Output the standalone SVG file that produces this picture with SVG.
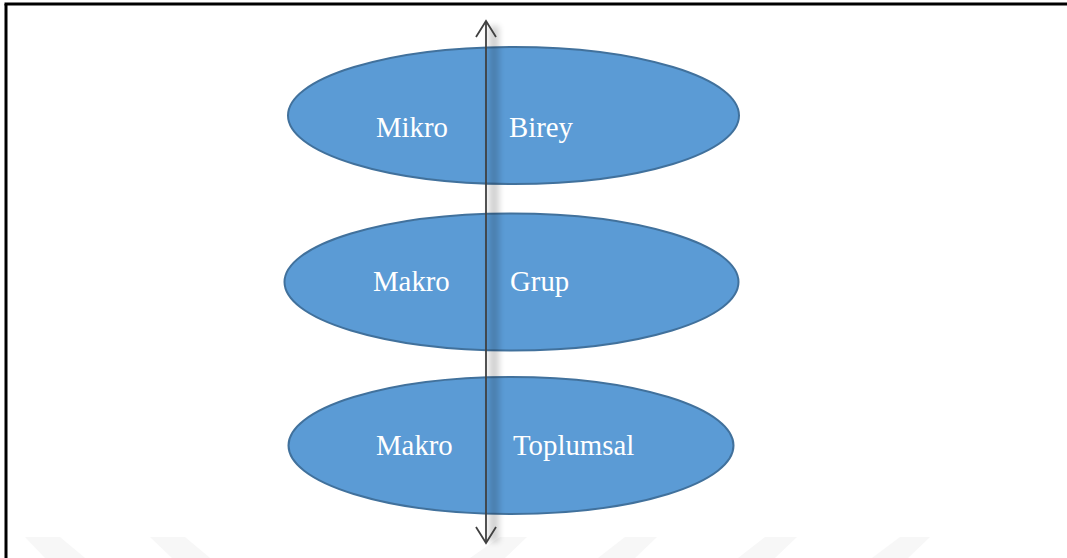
<svg xmlns="http://www.w3.org/2000/svg" width="1067" height="558" viewBox="0 0 1067 558">
<style>
.node ellipse{fill:#5b9bd5;stroke:#41719c;stroke-width:2}
.node text{font-family:"Liberation Serif","Times New Roman",serif;font-size:28.8px;fill:#ffffff}
.conn{stroke:#404040;stroke-width:1.8;fill:none}
.wm{fill:#f7f7f7}
</style>
<defs>
<filter id="blur" x="-200%" y="-10%" width="500%" height="120%"><feGaussianBlur stdDeviation="3"/></filter>
</defs>
<rect width="1067" height="558" fill="#ffffff"/>
<g id="watermark">
<polygon class="wm" points="25,537 60,537 85,558 45,558"/>
<polygon class="wm" points="150,537 185,537 210,558 172,558"/>
<polygon class="wm" points="500,537 527,537 505,558 470,558"/>
<polygon class="wm" points="625,537 657,537 635,558 598,558"/>
<polygon class="wm" points="765,537 797,537 775,558 738,558"/>
<polygon class="wm" points="900,537 930,537 908,558 872,558"/>
</g>
<g id="frame">
<line x1="6" y1="4" x2="6" y2="558" stroke="#000" stroke-width="3"/>
<line x1="4.5" y1="4" x2="1067" y2="4" stroke="#000" stroke-width="3"/>
</g>
<g id="node-birey" class="node">
<ellipse cx="513.5" cy="115.5" rx="225.5" ry="68.5"/>
<text x="376" y="137">Mikro</text>
<text x="509" y="137">Birey</text>
</g>
<g id="node-grup" class="node">
<ellipse cx="511.5" cy="282" rx="227" ry="68.5"/>
<text x="373" y="291">Makro</text>
<text x="510" y="291">Grup</text>
</g>
<g id="node-toplumsal" class="node">
<ellipse cx="511" cy="445.5" rx="222.5" ry="68.5"/>
<text x="376" y="455">Makro</text>
<text x="513" y="455">Toplumsal</text>
</g>
<g id="connectors">
<g opacity="0.18" filter="url(#blur)">
<rect x="489" y="26" width="10" height="516" fill="#000"/>
</g>
<line class="conn" x1="486" y1="21" x2="486" y2="543"/>
<polyline class="conn" points="476,37 486,21 496,37"/>
<polyline class="conn" points="476,527 486,543 496,527"/>
</g>
</svg>
